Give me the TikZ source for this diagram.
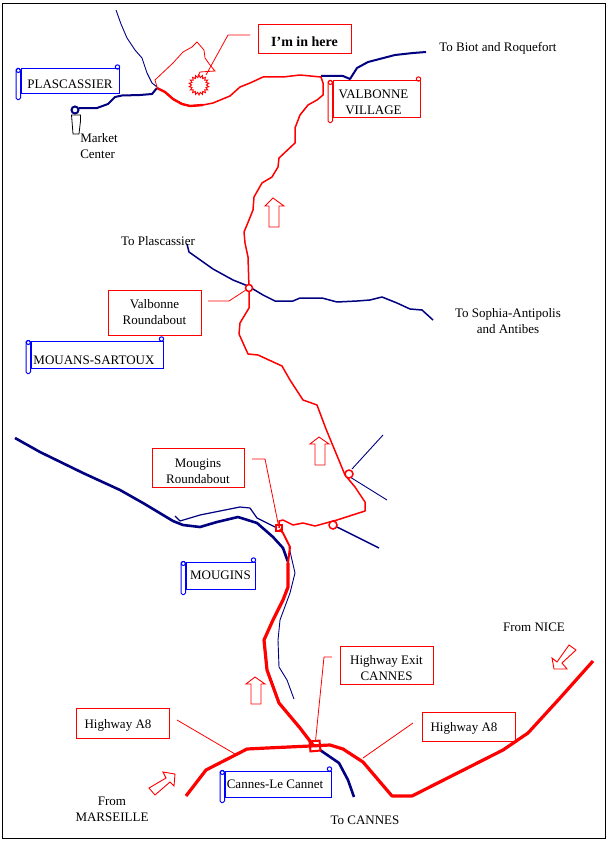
\documentclass[tikz,border=0pt]{standalone}
\usepackage{fontspec}
\setmainfont{Liberation Serif}
\usetikzlibrary{calc,shapes.geometric}
\definecolor{roadblue}{RGB}{0,0,128}
\definecolor{scrollblue}{RGB}{0,0,255}
\definecolor{roadred}{RGB}{255,0,0}
\def\px{0.75pt}
\def\dropby#1{\rule{0pt}{#1}}
\tikzset{
	labeltext/.style={font=\fontsize{9.75}{12}\selectfont, align=center, inner sep=0pt},
	redbox/.style={labeltext, draw=roadred, line width=1*\px, rectangle},
	bluebox/.style={labeltext, draw=scrollblue, line width=1*\px, rectangle},
	leader/.style={draw=roadred, line width=0.8*\px},
	redroad/.style={draw=roadred, line width=1.5*\px, line join=round},
	redhighway/.style={draw=roadred, line width=3.2*\px, line join=round},
	blueroad/.style={draw=roadblue, line width=1.5*\px, line join=round},
	bluethin/.style={draw=roadblue, line width=0.9*\px, line join=round},
	bluethick/.style={draw=roadblue, line width=2.6*\px, line join=round},
	ring/.style={circle, draw=roadred, line width=1.5*\px, fill=white, inner sep=0pt, minimum size=7*\px},
	bigarrow/.style={draw=roadred, line width=0.9*\px}
}
\begin{document}
\begin{tikzpicture}[x=\px,y=-\px]
\useasboundingbox (0,0) rectangle (608,842);
\draw[line width=1*\px] (2.5,3.5) rectangle (605,838);

% free ends of the leaders
\coordinate (hereEnd) at (250,35);
\coordinate (hereBend) at (228,35);
\coordinate (valbonneEnd) at (208,301);
\coordinate (valbonneBend) at (229,301);
\coordinate (mouginsEnd) at (252,459);
\coordinate (mouginsBend) at (265,459);
\coordinate (exitEnd) at (332,657);
\coordinate (exitBend) at (324,657);
\coordinate (highwayLeftEnd) at (177,720);
\coordinate (highwayLeftRoad) at (235,754);
\coordinate (highwayRightEnd) at (413,723);
\coordinate (highwayRightRoad) at (363,758);

% blue roads
\draw[bluethin] (116,10) -- (121,24) -- (127,38) -- (135,50) -- (142,58) -- (147,73) -- (152,83) -- (157,87);
\draw[blueroad, line width=2*\px] (157,88) -- (152,94) -- (140,95) -- (122,95.5) -- (115,97) -- (108,104) -- (97,108) -- (79,108);
\draw[blueroad, line width=2*\px] (321,76) -- (343,76) -- (350,79) -- (357,68) -- (368,62) -- (395,55) -- (413,53) -- (426,52);
\draw[blueroad] (187,244) -- (189,252) -- (213,269) -- (233,280) -- (248,286) -- (263,295) -- (275,301) -- (293,301) -- (300,298) -- (322,298) -- (337,302) -- (357,301) -- (370,300) -- (382,297) -- (397,303) -- (410,309) -- (422,310) -- (433,320);
\draw[bluethick] (15,438) -- (40,452) -- (83,473) -- (120,490) -- (143,503) -- (173,521) -- (183,525) -- (200,527) -- (217,522) -- (238,517) -- (257,523) -- (273,537) -- (283,548) -- (288,562);
\draw[bluethin, line width=1.2*\px] (175,516) -- (180,521) -- (200,515) -- (220,511) -- (240,507) -- (250,508) -- (257,518) -- (277,528);
\draw[bluethin] (289,547) -- (295,573) -- (290,593) -- (280,620) -- (278,640) -- (279,667) -- (287,680) -- (294,699);
\draw[bluethin] (352,469) -- (383,435);
\draw[bluethin] (350,477) -- (387,500);
\draw[blueroad] (337,527) -- (379,548);
\draw[bluethick] (320,750) -- (339,763) -- (348,780) -- (354,797);

% red roads
\draw[redroad] (157,88) -- (165,92) -- (173,99) -- (182,104) -- (190,106) -- (203,105) -- (213,103) -- (230,96) -- (240,87) -- (250,83) -- (263,77) -- (283,77) -- (300,75) -- (321,77) -- (323,83) -- (323,95) -- (317,100) -- (308,105) -- (300,115) -- (295,128) -- (295,143) -- (279,158) -- (278,167) -- (272,177) -- (262,183) -- (254,197) -- (253,210) -- (249,220) -- (244,232) -- (245,243) -- (248,257) -- (249,288) -- (249,308) -- (240,323) -- (239,334) -- (248,354) -- (258,355) -- (282,366) -- (290,380) -- (303,400) -- (317,405) -- (326,429) -- (345,475) -- (355,487) -- (365,502) -- (365,511) -- (337,520) -- (315,526) -- (303,523) -- (293,525) -- (283,520) -- (279,521) -- (279,528);
\draw[redroad, line width=2.4*\px] (157,88) -- (165,92) -- (173,99) -- (182,104) -- (190,106) -- (203,105);
\draw[redroad, line width=2*\px] (280,529) -- (283,533) -- (290,547) -- (288,563);
\draw[redhighway] (288,563) -- (288,587) -- (283,600) -- (273,620) -- (264,640) -- (267,670) -- (279,703) -- (300,728) -- (313,745);
\draw[redhighway] (186,796) -- (206,770) -- (247,749) -- (267,748) -- (310,746) -- (330,745) -- (343,749) -- (363,762) -- (392,796) -- (412,796) -- (503,750) -- (528,733) -- (560,698) -- (593,661);

% property outline and the place itself
\draw[leader] (157,87) -- (155,80) -- (173,63) -- (183,52) -- (192,47) -- (197,42) -- (204,50) -- (205,58) -- (210,65) -- (215,71) -- (200,72) -- (198,76) -- (205,80);
\node[star, star points=18, star point ratio=1.35, draw=roadred, line width=0.9*\px, fill=white, inner sep=0pt, minimum size=20*\px] (house) at (199,85) {};

% roundabouts
\node[ring] (valbonneRing) at (249,288) {};
\node[ring, minimum size=8*\px] (northRing) at (349,474) {};
\node[ring, minimum size=8*\px] (eastRing) at (333,525) {};
\node[rectangle, draw=roadred, line width=1.5*\px, inner sep=0pt, minimum size=6*\px] (mouginsSquare) at (279,528) {};
\node[rectangle, draw=roadred, line width=2*\px, inner sep=0pt, minimum size=10*\px, rotate=5] (exitSquare) at (315,746) {};

% market center
\node[circle, draw=roadblue, line width=2*\px, inner sep=0pt, minimum size=7*\px] (marketRing) at (75,110) {};
\draw[line width=0.8*\px, fill=white] (71.5,115) -- (80.5,115) -- (80.5,121) -- (79,134) -- (73,134) -- (72,121) -- cycle;

% red boxes
\node[redbox, font=\fontsize{10.5}{12}\selectfont\bfseries, minimum width=93*\px, minimum height=29*\px] (hereBox) at (304.5,39.5) {\dropby{10pt}I'm in here};
\node[redbox, minimum width=93*\px, minimum height=45*\px] (valbonneBox) at (154.5,312.5) {Valbonne\\Roundabout};
\node[redbox, minimum width=92*\px, minimum height=39*\px] (mouginsBox) at (198,467.5) {\dropby{12pt}Mougins\\Roundabout};
\node[redbox, minimum width=93*\px, minimum height=38*\px] (exitBox) at (386.5,665) {\dropby{11.2pt}Highway Exit\\CANNES};
\node[redbox, minimum width=93*\px, minimum height=30*\px] (highwayLeft) at (122.5,723) {\dropby{9.7pt}Highway A8\hspace*{6.75pt}};
\node[redbox, minimum width=93*\px, minimum height=29*\px] (highwayRight) at (468.5,726.5) {\dropby{9.7pt}Highway A8\hspace*{6.75pt}};

% scrolls
\node[bluebox, minimum width=98*\px, minimum height=25*\px] (plascassier) at (70,81.5) {\dropby{11.2pt}PLASCASSIER};
\node[bluebox, minimum width=132*\px, minimum height=27*\px] (mouansBox) at (97,354.5) {\dropby{15.7pt}MOUANS-SARTOUX\hspace*{4.5pt}};
\node[bluebox, minimum width=69*\px, minimum height=27*\px] (mougins) at (220.5,575.5) {MOUGINS};
\node[bluebox, minimum width=106*\px, minimum height=26*\px] (cannes) at (278,784) {Cannes-Le Cannet\hspace*{4.5pt}};
\node[redbox, minimum width=87*\px, minimum height=36*\px] (village) at (376.5,99) {\dropby{11.2pt}VALBONNE\hspace*{4.5pt}\\VILLAGE\hspace*{4.5pt}};
\foreach \b/\c in {plascassier/scrollblue, mouansBox/scrollblue, mougins/scrollblue, cannes/scrollblue, village/roadred}{
	\draw[draw=\c, line width=1*\px, rounded corners=1.5*\px] ($(\b.north west)+(-4.5,0)$) rectangle ($(\b.south west)+(0,5)$);
	\draw[draw=\c, line width=1*\px] ($(\b.north west)+(-2.2,2)$) circle (2*\px);
	\draw[draw=\c, line width=1*\px] ($(\b.north east)+(-2,-1.5)$) circle (2.2*\px);
}

% leaders
\draw[leader] (hereEnd) -- (hereBend) -- (206,75);
\draw[leader] (valbonneEnd) -- (valbonneBend) -- (valbonneRing);
\draw[leader] (mouginsEnd) -- (mouginsBend) -- (mouginsSquare);
\draw[leader] (exitEnd) -- (exitBend) -- (exitSquare);
\draw[leader] (highwayLeftEnd) -- (highwayLeftRoad);
\draw[leader] (highwayRightEnd) -- (highwayRightRoad);

% block arrows
\draw[bigarrow] (273,198) -- (284,206) -- (279,206) -- (279,227) -- (269,227) -- (269,206) -- (265,206) -- cycle;
\draw[bigarrow] (319,437) -- (329,444) -- (325,444) -- (325,465) -- (315,465) -- (315,444) -- (310,444) -- cycle;
\draw[bigarrow] (255,677) -- (265,684) -- (261,684) -- (261,704) -- (251,704) -- (251,684) -- (246,684) -- cycle;
\draw[bigarrow] (149,788) -- (166,778) -- (163,772) -- (175,774) -- (174,786) -- (170,782) -- (155,795) -- cycle;
\draw[bigarrow] (569,645) -- (576,650) -- (562,663) -- (567,669) -- (554,669) -- (552,658) -- (557,662) -- cycle;

% place names
\node[labeltext] (toBiot) at (498,48) {To Biot and Roquefort};
\node[labeltext, align=left, anchor=west] (market) at (80,146.5) {Market\\Center};
\node[labeltext] (toPlascassier) at (158,241) {To Plascassier};
\node[labeltext] (toSophia) at (508,321) {To Sophia-Antipolis\\and Antibes};
\node[labeltext] (fromNice) at (534,627) {From NICE};
\node[labeltext] (fromMarseille) at (112,809) {From\\MARSEILLE};
\node[labeltext] (toCannes) at (365,820) {To CANNES};
\end{tikzpicture}
\end{document}
